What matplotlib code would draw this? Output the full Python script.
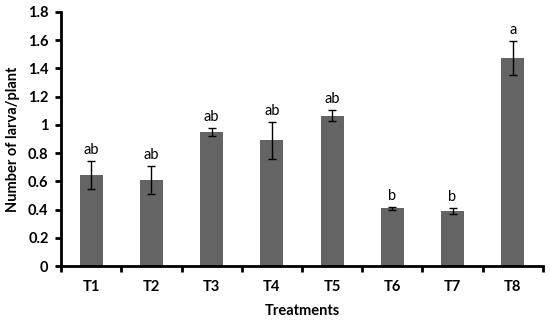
import matplotlib.pyplot as plt
import numpy as np

treatments = ["T1", "T2", "T3", "T4", "T5", "T6", "T7", "T8"]
means = [0.645, 0.61, 0.95, 0.89, 1.065, 0.41, 0.39, 1.475]
errors = [0.10, 0.10, 0.03, 0.13, 0.04, 0.01, 0.02, 0.12]
letters = ["ab", "ab", "ab", "ab", "ab", "b", "b", "a"]

plt.rcParams["font.family"] = ["Lato", "DejaVu Sans"]

fig = plt.figure(figsize=(5.5, 3.23), dpi=100)
ax = fig.add_axes([0.111, 0.176, 0.876, 0.787])

x = np.arange(len(treatments))
ax.bar(x, means, width=0.38, color="#646464", zorder=2)
ax.errorbar(x, means, yerr=errors, fmt="none", ecolor="black",
            elinewidth=1, capsize=3, capthick=1, zorder=3)

for xi, m, e, lab in zip(x, means, errors, letters):
    ax.annotate(lab, (xi, m + e), xytext=(0, 3), textcoords="offset points",
                ha="center", va="bottom", fontsize=10.5)

ax.set_xlim(-0.5, 7.5)
ax.set_ylim(0, 1.8)
ax.set_yticks(np.arange(0, 1.81, 0.2))
ax.set_yticklabels(["0", "0.2", "0.4", "0.6", "0.8", "1", "1.2", "1.4", "1.6", "1.8"])
ax.set_xticks(x)
ax.set_xticklabels(treatments)
ax.set_xticks(np.arange(-0.5, 7.6, 1), minor=True)
ax.tick_params(axis="x", which="major", length=0, pad=10)
ax.tick_params(axis="x", which="minor", length=4, width=2, direction="out")
ax.tick_params(axis="y", length=4, width=2, direction="out", pad=5)
for lbl in ax.get_xticklabels() + ax.get_yticklabels():
    lbl.set_fontweight("bold")
    lbl.set_fontsize(10.5)

ax.spines["top"].set_visible(False)
ax.spines["right"].set_visible(False)
ax.spines["left"].set_linewidth(2)
ax.spines["bottom"].set_linewidth(2)

ax.set_xlabel("Treatments", fontweight="bold", fontsize=10.5, labelpad=7)
ax.set_ylabel("Number of larva/plant", fontweight="bold", fontsize=10.5, labelpad=6)

fig.savefig("out.png", dpi=100)
